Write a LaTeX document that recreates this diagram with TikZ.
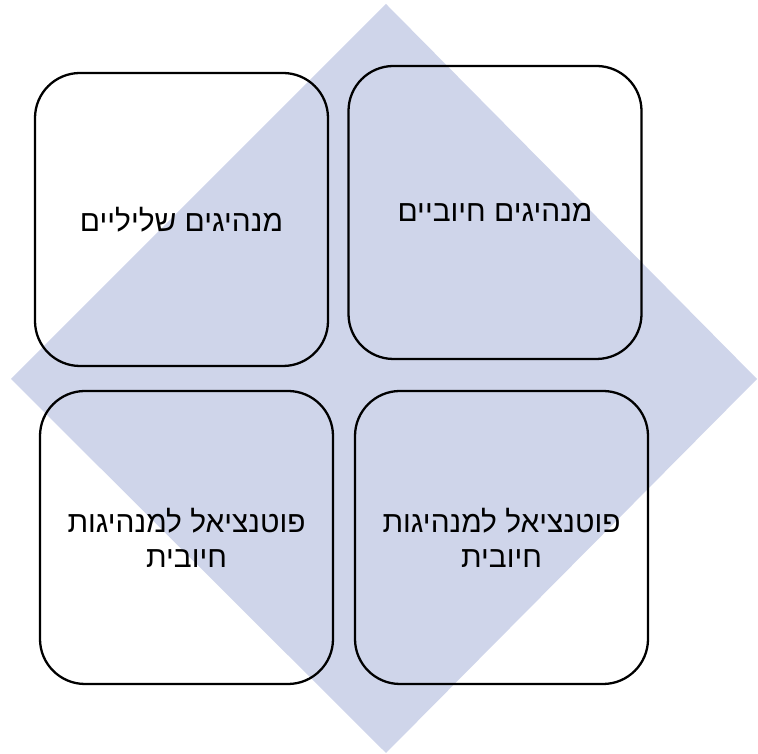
\documentclass[tikz,border=0pt]{standalone}
\usepackage{fontspec}
\newfontfamily\hebfont[Script=Hebrew]{Liberation Sans}
\TeXXeTstate=1
\definecolor{diamondblue}{HTML}{CFD5EA}

\begin{document}
\begin{tikzpicture}[
    quadrant/.style ={rectangle, draw, line width=1.3pt, rounded corners=0.9cm,
      minimum width=5.86cm, minimum height=5.86cm, align=center,
      font=\hebfont\fontsize{17}{20}\selectfont}]
   \useasboundingbox (0,0) rectangle (15.16,15.08);
   \fill[diamondblue] (7.72,15.0) -- (15.14,7.5) -- (7.72,0.02) -- (0.22,7.5) -- cycle;

   \node[quadrant] (A) at (3.63,10.69)  {\beginR מנהיגים שליליים\endR};
   \node[quadrant] (B) at (9.9,10.83)  {\beginR מנהיגים חיוביים\endR};
   \node[quadrant] (C) at (3.73,4.33)  {\beginR פוטנציאל למנהיגות\endR\\\beginR חיובית\endR};
   \node[quadrant] (D) at (10.03,4.33)  {\beginR פוטנציאל למנהיגות\endR\\\beginR חיובית\endR};
 \end{tikzpicture}
\end{document}
